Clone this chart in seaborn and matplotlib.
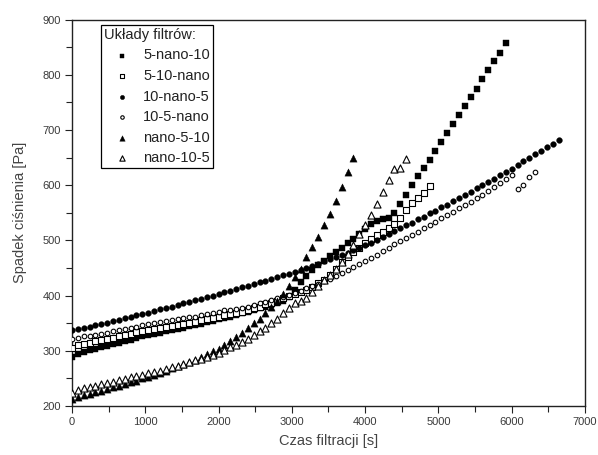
import matplotlib
matplotlib.use("Agg")
import matplotlib.pyplot as plt
import seaborn as sns
from matplotlib.ticker import MultipleLocator

# Time grid [s]
T = [0, 80, 160, 240, 320, 400, 480, 560, 640, 720, 800, 880, 960, 1040, 1120, 1200,
     1280, 1360, 1440, 1520, 1600, 1680, 1760, 1840, 1920, 2000, 2080, 2160, 2240, 2320,
     2400, 2480, 2560, 2640, 2720, 2800, 2880, 2960, 3040, 3120, 3200, 3280, 3360, 3440,
     3520, 3600, 3680, 3760, 3840, 3920, 4000, 4080, 4160, 4240, 4320, 4400, 4480, 4560,
     4640, 4720, 4800, 4880, 4960, 5040, 5120, 5200, 5280, 5360, 5440, 5520, 5600, 5680,
     5760, 5840, 5920, 6000, 6080, 6160, 6240, 6320, 6400, 6480, 6560, 6640]

labels = ["5-nano-10", "5-10-nano", "10-nano-5", "10-5-nano", "nano-5-10", "nano-10-5"]

p_5_nano_10 = [289, 295, 298, 301, 303, 306, 309, 312, 315, 318, 320, 323, 326, 329, 331, 333,
               336, 338, 340, 342, 345, 347, 349, 352, 354, 357, 360, 362, 365, 368, 371, 374,
               377, 380, 383, 386, 391, 398, 410, 424, 436, 446, 455, 463, 471, 479, 487, 495,
               503, 511, 520, 530, 536, 539, 541, 550, 566, 582, 600, 617, 632, 645, 662, 678,
               695, 711, 728, 743, 759, 775, 792, 808, 825, 840, 857]

p_5_10_nano = [305, 311, 313, 315, 318, 320, 322, 324, 327, 329, 331, 334, 336, 338, 340, 342,
               344, 345, 347, 349, 351, 353, 355, 357, 359, 361, 364, 366, 369, 371, 374, 377,
               380, 384, 387, 391, 395, 399, 403, 407, 411, 416, 422, 429, 438, 449, 460, 470,
               479, 487, 495, 502, 509, 515, 522, 530, 541, 555, 567, 576, 586, 599]

p_10_nano_5 = [337, 339, 342, 344, 347, 349, 351, 354, 356, 359, 361, 364, 367, 369, 372, 375,
               378, 380, 383, 386, 389, 392, 394, 397, 400, 403, 406, 409, 412, 415, 418, 421,
               424, 427, 430, 433, 437, 440, 443, 447, 450, 454, 458, 462, 466, 470, 474, 478,
               482, 487, 491, 496, 501, 506, 511, 517, 522, 527, 532, 538, 543, 549, 554, 560,
               565, 571, 577, 582, 588, 594, 600, 606, 612, 618, 624, 630, 636, 643, 649, 656,
               662, 669, 675, 681]

p_10_5_nano = [322, 324, 326, 327, 329, 331, 333, 336, 338, 340, 342, 344, 347, 349, 350, 352,
               354, 355, 357, 359, 361, 362, 364, 366, 368, 371, 373, 374, 376, 378, 380, 383,
               386, 389, 392, 395, 398, 401, 405, 409, 413, 417, 421, 426, 430, 435, 441, 446,
               452, 457, 462, 468, 474, 480, 487, 493, 499, 505, 510, 516, 522, 528, 534, 540,
               546, 552, 558, 564, 570, 576, 583, 590, 597, 604, 611, 618, 593, 600, 614, 624]

p_nano_5_10 = [212, 217, 220, 222, 225, 228, 231, 234, 237, 240, 243, 246, 250, 253, 257, 260,
               264, 268, 272, 276, 280, 284, 289, 294, 299, 304, 310, 317, 325, 333, 342, 350,
               358, 369, 380, 391, 403, 417, 433, 449, 469, 488, 507, 527, 548, 571, 596, 623,
               649]

p_nano_10_5 = [224, 229, 232, 234, 237, 239, 242, 244, 247, 249, 252, 254, 257, 259, 262, 264,
               267, 270, 273, 276, 280, 283, 286, 289, 292, 296, 301, 306, 311, 316, 322, 328,
               335, 342, 350, 358, 368, 378, 386, 390, 396, 406, 417, 428, 438, 449, 461, 475,
               492, 511, 527, 546, 566, 587, 609, 630, 631, 647]

sns.set_theme(style="ticks")
plt.rcParams['font.family'] = ['Liberation Sans', 'DejaVu Sans']

fig = plt.figure(figsize=(5.98, 4.55), dpi=100)
ax = fig.add_axes([0.1204, 0.1077, 0.8578, 0.8493])

styles = [
    (p_5_nano_10, "s", True, 17),
    (p_5_10_nano, "s", False, 16),
    (p_10_nano_5, "o", True, 17),
    (p_10_5_nano, "o", False, 11),
    (p_nano_5_10, "^", True, 27),
    (p_nano_10_5, "^", False, 26),
]

for lab, (vals, mk, filled, size) in zip(labels, styles):
    xs = T[:len(vals)]
    if filled:
        sns.scatterplot(x=xs, y=vals, marker=mk, s=size, facecolor="black",
                        edgecolor="black", linewidth=0.3, ax=ax, label=lab, zorder=3)
    else:
        sns.scatterplot(x=xs, y=vals, marker=mk, s=size, facecolor="white",
                        edgecolor="black", linewidth=0.8, ax=ax, label=lab, zorder=3)

ax.set_xlim(0, 7000)
ax.set_ylim(200, 900)
ax.xaxis.set_major_locator(MultipleLocator(1000))
ax.xaxis.set_minor_locator(MultipleLocator(500))
ax.yaxis.set_major_locator(MultipleLocator(100))
ax.yaxis.set_minor_locator(MultipleLocator(50))
ax.tick_params(which="major", direction="out", length=5, width=0.8, color="#222222",
               labelsize=8, labelcolor="#3a3a3a", pad=3)
ax.tick_params(which="minor", direction="out", length=4, width=0.8, color="#222222")
for sp in ax.spines.values():
    sp.set_linewidth(1.0)
    sp.set_color("#222222")

ax.set_xlabel("Czas filtracji [s]", fontsize=10.5, color="#444444", labelpad=5)
ax.set_ylabel("Spadek ciśnienia [Pa]", fontsize=10.5, color="#444444", labelpad=11)

leg = ax.legend(title="Układy filtrów:", loc="upper left", bbox_to_anchor=(0.056, 0.986),
                frameon=True, fancybox=False, edgecolor="black", framealpha=1,
                fontsize=10.5, title_fontsize=10.5, markerscale=0.75, borderpad=0.2,
                labelspacing=0.45, handlelength=2.5, handletextpad=0.2, borderaxespad=0)
leg._legend_box.align = "left"
leg.get_frame().set_linewidth(0.9)
for t in leg.get_texts():
    t.set_color("#222222")
leg.get_title().set_color("#222222")

fig.savefig("out.png", dpi=100)
